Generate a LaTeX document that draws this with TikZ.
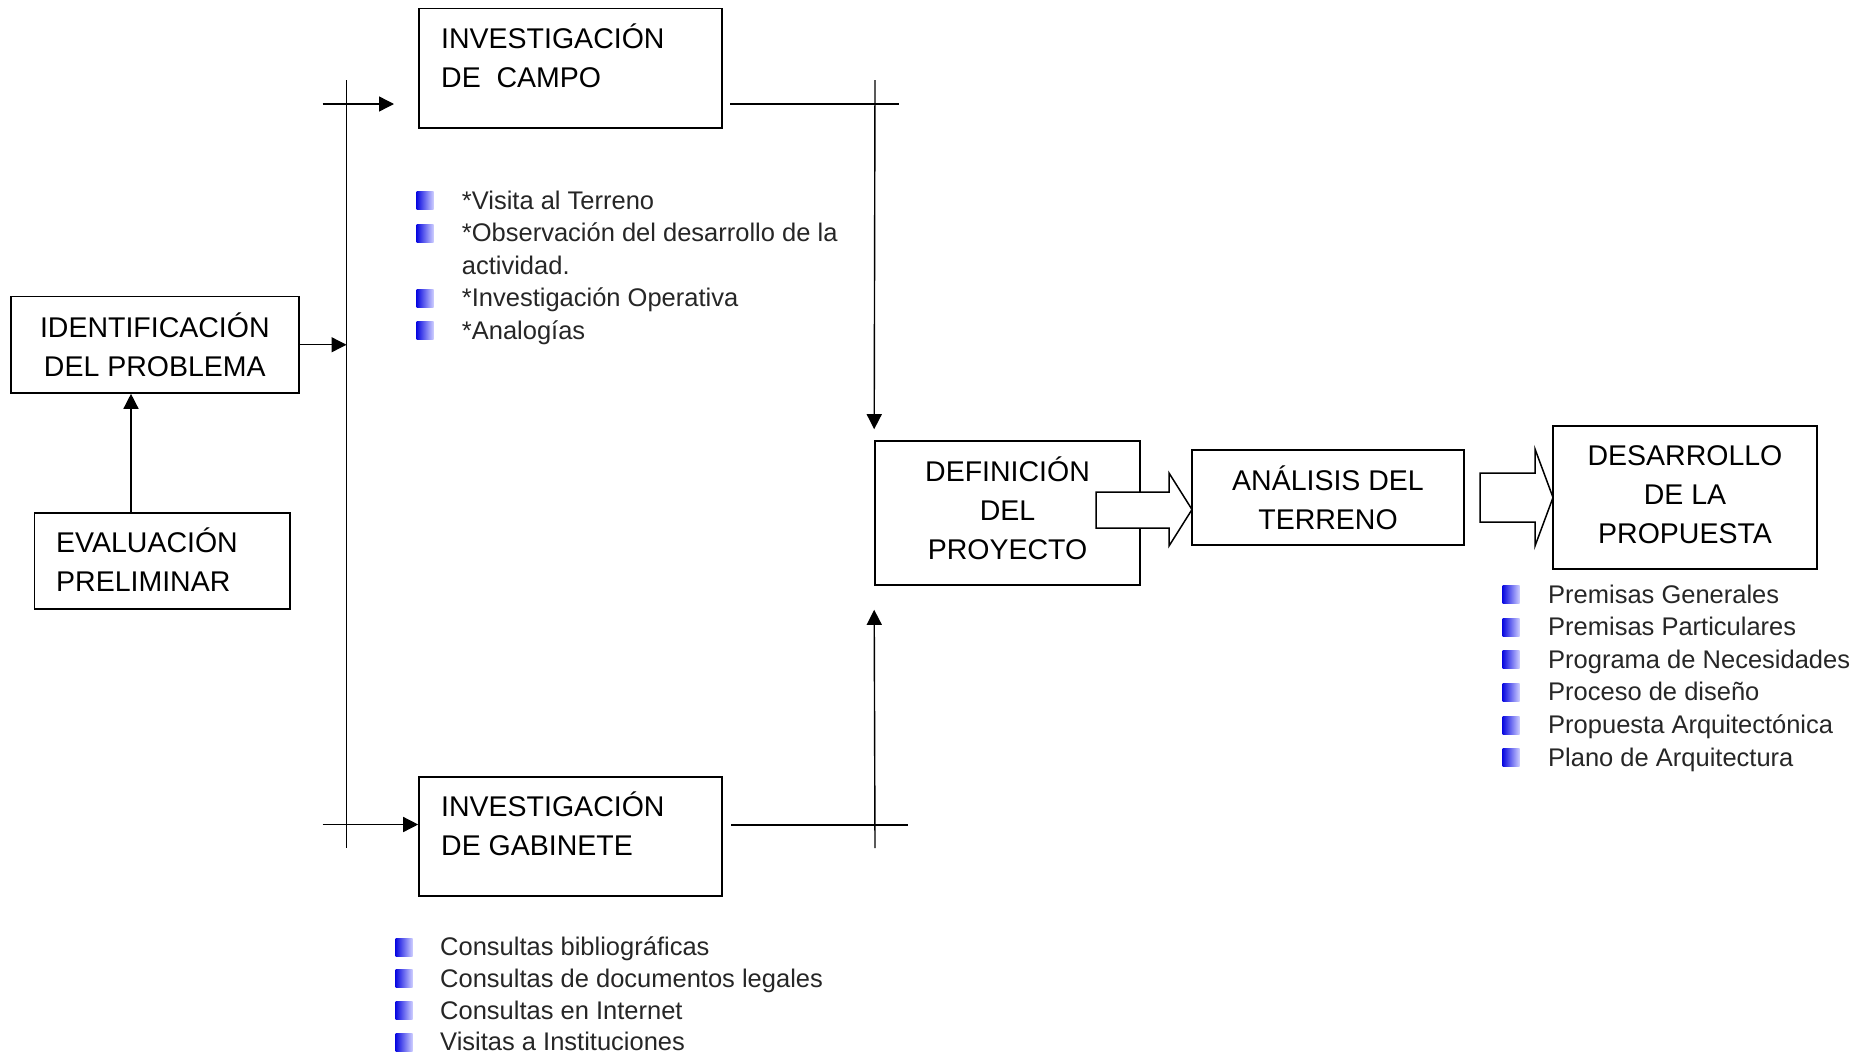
\documentclass[tikz,border=0pt]{standalone}
\usepackage{fontspec}
\setmainfont{Liberation Sans}
\usetikzlibrary{arrows.meta}
\newcommand\boxfont{\fontsize{28.5}{39}\selectfont}
\newcommand\itemfont{\fontsize{25.5}{31}\selectfont}
\definecolor{bulL}{RGB}{10,10,225}
\definecolor{bulR}{RGB}{205,205,255}
\tikzset{
  box/.style={draw, line width=1.6pt, inner sep=0pt, font=\boxfont, align=center},
  btext/.style={font=\boxfont, align=left, inner sep=0pt},
  ctext/.style={font=\boxfont, align=center, inner sep=0pt, anchor=base},
  conn/.style={line width=1.4pt},
  arr/.style={conn, -{Triangle[length=15pt,width=15pt]}},
  blockarrow/.style={draw, line width=1.5pt, fill=white, line join=miter},
  bul/.style={minimum width=17pt, minimum height=18pt, inner sep=0pt, left color=bulL, right color=bulR},
  item/.style={font=\itemfont, anchor=base west, inner sep=0pt, text=black!85}
}
\begin{document}
\begin{tikzpicture}[x=1pt,y=-1pt]
\useasboundingbox (0,0) rectangle (1872,1055);
% boxes (multi-line text: base anchor = last line's baseline)
\node[box, minimum width=303, minimum height=119.5] (campo) at (570.5,68.25) {};
\node[btext, anchor=base west] (campoT) at (441,87) {INVESTIGACIÓN\\DE~~CAMPO};
\node[box, minimum width=303, minimum height=119] (gab) at (570.5,836.5) {};
\node[btext, anchor=base west] (gabT) at (441,855.5) {INVESTIGACIÓN\\DE GABINETE};
\node[box, minimum width=288.3, minimum height=96.5] (id) at (154.85,344.75) {IDENTIFICACIÓN\\DEL PROBLEMA};
\node[box, minimum width=255.4, minimum height=96] (eval) at (162.3,561) {};
\node[btext, anchor=base west] (evalT) at (56,591) {EVALUACIÓN\\PRELIMINAR};
\node[box, minimum width=265, minimum height=144] (def) at (1007.5,513) {};
\node[ctext] (defT) at (1007.5,559.2) {DEFINICIÓN\\DEL\\PROYECTO};
\node[box, minimum width=272, minimum height=95] (ana) at (1328,497.5) {ANÁLISIS DEL\\TERRENO};
\node[box, minimum width=264, minimum height=143] (des) at (1685,497.5) {};
\node[ctext] (desT) at (1685,543.8) {DESARROLLO\\DE LA\\PROPUESTA};
% left bus
\coordinate (busT) at (346.5,80);
\coordinate (busB) at (346.5,848);
\draw[conn] (busT) -- (busB);
\draw[arr] (id.east) -- (id.east -| busT);
\coordinate (ax) at (131,0);
\draw[arr] (eval.north -| ax) -- (id.south -| ax);
\coordinate (tin) at (322.5,104);
\coordinate (campoIn) at (394,104);
\draw[arr] (tin) -- (campoIn);
\coordinate (gin) at (322.5,824.5);
\draw[arr] (gin) -- (gab.west |- gin);
% right bus
\coordinate (cout) at (730,104);
\coordinate (cend) at (899,104);
\draw[conn] (cout) -- (cend);
\coordinate (rT) at (875,80);
\draw[arr] (rT) -- ([yshift=11pt]def.north west);
\coordinate (gout) at (731,825);
\coordinate (gend) at (908,825);
\draw[conn] (gout) -- (gend);
\coordinate (rB) at (875,848);
\draw[arr] (rB) -- ([yshift=-24pt]def.south west);
% block arrows
\draw[blockarrow] (1096,492) -- (1169,492) -- (1169,473) -- (1192,509.5) -- (1169,546) -- (1169,528) -- (1096,528) -- cycle;
\draw[blockarrow] (1480,473) -- (1535,473) -- (1535,449) -- (1553,497.5) -- (1535,546) -- (1535,522) -- (1480,522) -- cycle;
% campo list
\node[bul] (cb1) at (425,200.6) {};
\node[item] (ci1) at (461.7,209.1) {*Visita al Terreno};
\node[bul] (cb2) at (425,233.1) {};
\node[item] (ci2) at (461.7,241.6) {*Observación del desarrollo de la};
\node[item] (ci2b) at (461.7,274.1) {actividad.};
\node[bul] (cb3) at (425,298.1) {};
\node[item] (ci3) at (461.7,306.6) {*Investigación Operativa};
\node[bul] (cb4) at (425,330.6) {};
\node[item] (ci4) at (461.7,339.1) {*Analogías};
% gabinete list
\foreach \t [count=\i from 0] in {Consultas bibliográficas,Consultas de documentos legales,Consultas en Internet,Visitas a Instituciones}{
  \node[bul] (gb\i) at (404,947+31.8*\i) {};
  \node[item] (gi\i) at (440,955.5+31.8*\i) {\t};
}
% desarrollo list
\foreach \t [count=\i from 0] in {Premisas Generales,Premisas Particulares,Programa de Necesidades,Proceso de diseño,Propuesta Arquitectónica,Plano de Arquitectura}{
  \node[bul] (db\i) at (1511,594.6+32.6*\i) {};
  \node[item] (di\i) at (1548,603.1+32.6*\i) {\t};
}
\end{tikzpicture}
\end{document}
